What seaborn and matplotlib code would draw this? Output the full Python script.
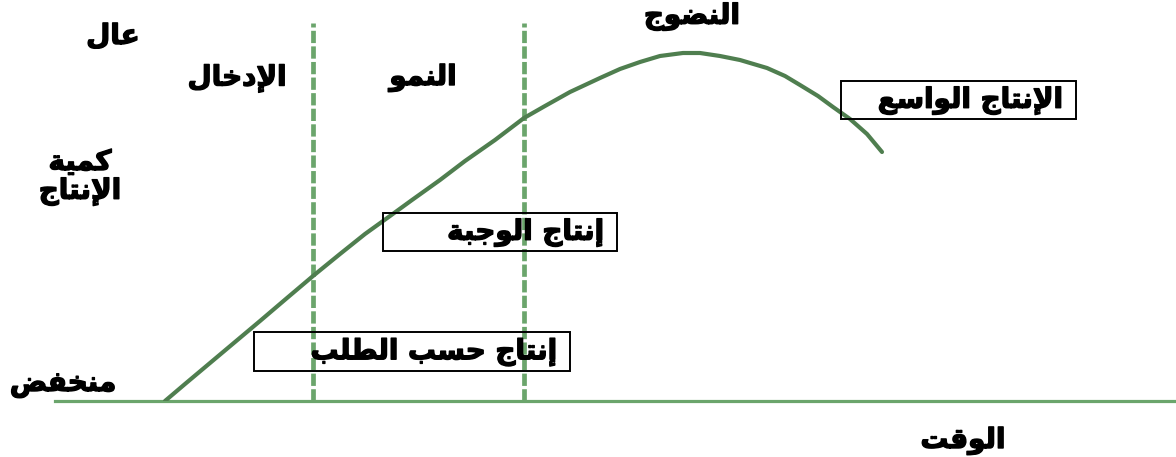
import matplotlib.pyplot as plt
import matplotlib.patheffects as pe
import seaborn as sns
from matplotlib.patches import Rectangle

# curve (time, output) in pixel-like units, y grows down
time_pts = [165, 185, 210, 235, 260, 287, 313, 340, 365, 390, 412, 440, 465, 495, 524, 545, 570,
            600, 620, 640, 660, 683, 700, 720, 740, 767, 785, 800, 818, 833, 850, 867, 882]
output_pts = [401, 384, 363, 342, 321, 298, 276, 254, 234, 216, 200, 180, 161, 140, 118, 106, 92,
              78, 69, 62, 56, 53, 53, 56, 60, 68, 76, 85, 96, 107, 119, 134, 152]

stage_bounds = [313, 524]
stage_labels = ["الإدخال", "النمو", "النضوج"]
box_labels = ["إنتاج حسب الطلب", "إنتاج الوجبة", "الإنتاج الواسع"]
y_label = ["كمية", "الإنتاج"]
y_high, y_low = "عال", "منخفض"
x_label = "الوقت"

# --- tiny arabic shaper (matplotlib has no shaping / bidi) ---
FORMS = {
    "ا": (0xFE8D, 0xFE8E, None, None), "إ": (0xFE87, 0xFE88, None, None),
    "ب": (0xFE8F, 0xFE90, 0xFE91, 0xFE92), "ة": (0xFE93, 0xFE94, None, None),
    "ت": (0xFE95, 0xFE96, 0xFE97, 0xFE98), "ج": (0xFE9D, 0xFE9E, 0xFE9F, 0xFEA0),
    "ح": (0xFEA1, 0xFEA2, 0xFEA3, 0xFEA4), "خ": (0xFEA5, 0xFEA6, 0xFEA7, 0xFEA8),
    "د": (0xFEA9, 0xFEAA, None, None), "س": (0xFEB1, 0xFEB2, 0xFEB3, 0xFEB4),
    "ض": (0xFEBD, 0xFEBE, 0xFEBF, 0xFEC0), "ط": (0xFEC1, 0xFEC2, 0xFEC3, 0xFEC4),
    "ع": (0xFEC9, 0xFECA, 0xFECB, 0xFECC), "ف": (0xFED1, 0xFED2, 0xFED3, 0xFED4),
    "ق": (0xFED5, 0xFED6, 0xFED7, 0xFED8), "ك": (0xFED9, 0xFEDA, 0xFEDB, 0xFEDC),
    "ل": (0xFEDD, 0xFEDE, 0xFEDF, 0xFEE0), "م": (0xFEE1, 0xFEE2, 0xFEE3, 0xFEE4),
    "ن": (0xFEE5, 0xFEE6, 0xFEE7, 0xFEE8), "و": (0xFEED, 0xFEEE, None, None),
    "ي": (0xFEF1, 0xFEF2, 0xFEF3, 0xFEF4),
}
LAM_ALEF = {"ا": (0xFEFB, 0xFEFC), "إ": (0xFEF9, 0xFEFA)}


def dual(c):
    return c in FORMS and FORMS[c][2] is not None


def shape(s):
    out = []
    i = 0
    while i < len(s):
        c = s[i]
        prev = s[i - 1] if i > 0 else ""
        joins_prev = dual(prev)
        if c == "ل" and i + 1 < len(s) and s[i + 1] in LAM_ALEF:
            iso, fin = LAM_ALEF[s[i + 1]]
            out.append(chr(fin if joins_prev else iso))
            i += 2
            continue
        if c not in FORMS:
            out.append(c)
            i += 1
            continue
        nxt = s[i + 1] if i + 1 < len(s) else ""
        joins_next = dual(c) and nxt in FORMS
        iso, fin, ini, med = FORMS[c]
        if joins_prev and joins_next:
            g = med
        elif joins_prev:
            g = fin
        elif joins_next:
            g = ini
        else:
            g = iso
        out.append(chr(g))
        i += 1
    return "".join(out)[::-1]


sns.set_style("white")
plt.rcParams['font.family'] = ['DejaVu Sans']

fig = plt.figure(figsize=(11.76, 4.57), dpi=100)
ax = fig.add_axes([55 / 1176, 56 / 457, 1121 / 1176, 401 / 457])
ax.set_xlim(55, 1176)
ax.set_ylim(401, 0)

curve_col = "#4f7e4f"
light_col = "#6ba56c"

for xb in stage_bounds:
    ax.plot([xb, xb], [401, 23], color=light_col, lw=3.4, dashes=(2.6, 0.7), zorder=1)

sns.lineplot(x=time_pts, y=output_pts, ax=ax, color=curve_col, lw=3.0, sort=False, zorder=3)

ax.set_xticks([])
ax.set_yticks([])
for side in ["top", "right", "left"]:
    ax.spines[side].set_visible(False)
ax.spines["bottom"].set_color(light_col)
ax.spines["bottom"].set_linewidth(2.3)
ax.set_xlabel("")
ax.set_ylabel("")

heavy = [pe.withStroke(linewidth=1.0, foreground="black")]
txt = dict(fontsize=20, fontweight="bold", color="black", clip_on=False, path_effects=heavy)

# boxes: (left, top, right, bottom), text anchored at right
boxes = [(254, 332, 570, 371), (383, 213, 617, 251), (841, 81, 1076, 119)]
for (l, t, r, b), lab in zip(boxes, box_labels):
    ax.add_patch(Rectangle((l, t), r - l, b - t, fill=True, facecolor="none",
                           edgecolor="black", lw=1.4, zorder=4))
    ax.text(r - 13, (t + b) / 2 + 1, shape(lab), ha="right", va="center", zorder=5, **txt)

ax.text(237, 78, shape(stage_labels[0]), ha="center", va="center", **txt)
ax.text(423, 78, shape(stage_labels[1]), ha="center", va="center", **txt)
ax.text(692, 17, shape(stage_labels[2]), ha="center", va="center", **txt)

ax.text(113, 36, shape(y_high), ha="center", va="center", **txt)
ax.text(80, 162, shape(y_label[0]), ha="center", va="center", **txt)
ax.text(80, 192, shape(y_label[1]), ha="center", va="center", **txt)
ax.text(63, 384, shape(y_low), ha="center", va="center", **txt)
ax.text(963, 441, shape(x_label), ha="center", va="center", **txt)

fig.savefig("out.png", dpi=100, facecolor="white")
